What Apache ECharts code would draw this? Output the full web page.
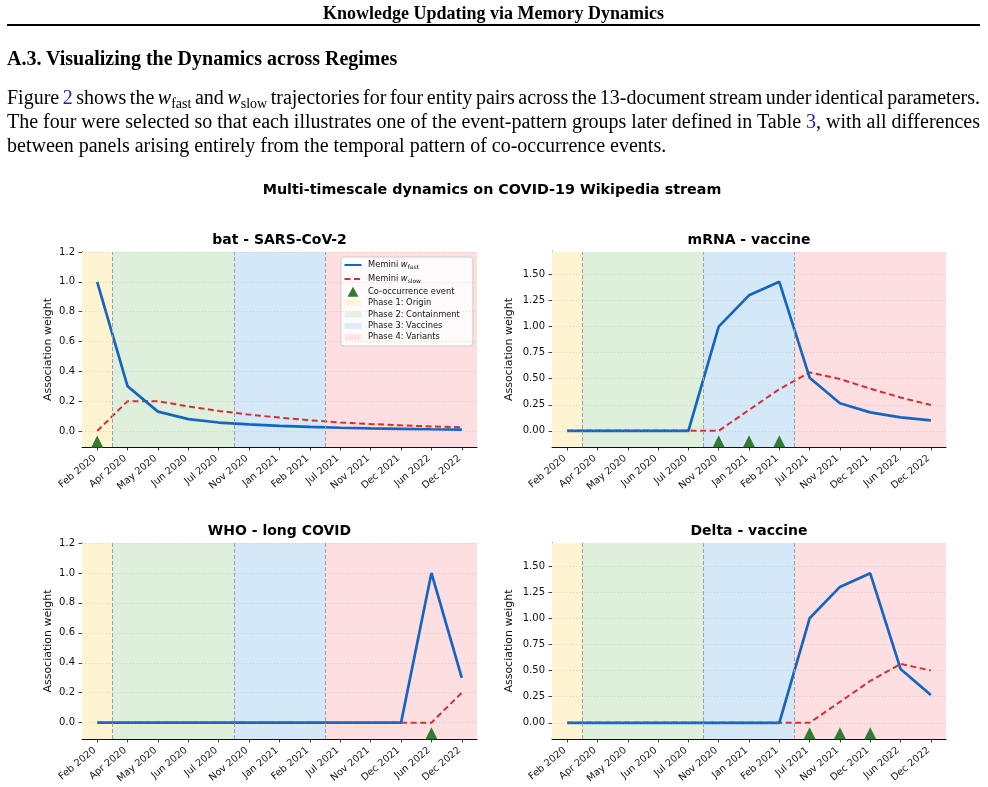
<!DOCTYPE html>
<html>
<head>
<meta charset="utf-8">
<script src="https://cdn.jsdelivr.net/npm/echarts@6/dist/echarts.min.js"></script>
<style>
html,body{margin:0;padding:0;background:#fff;}
#wrap{position:relative;width:988px;height:787px;overflow:hidden;}
#chart{position:absolute;left:0;top:0;width:988px;height:787px;}
.paper{position:absolute;left:7px;width:973px;font-family:'Liberation Serif','Times New Roman',serif;color:#000;}
.hdr{top:2px;text-align:center;font-weight:bold;font-size:18px;line-height:22px;}
.rule{position:absolute;left:7px;width:973px;top:24px;height:2px;background:#000;}
.sec{top:46px;font-weight:bold;font-size:20px;line-height:24px;}
.ln{font-size:20px;line-height:24px;text-align:justify;text-align-last:justify;word-spacing:-2px;}
.ln.last{text-align-last:left;word-spacing:0;}
.ln i{font-style:italic;}
.ln sub{font-size:70%;line-height:0;vertical-align:-0.25em;}
.lk{color:#1f1fa8;}
</style>
</head>
<body>
<div id="wrap">
<div id="chart"></div>
<div class="paper hdr">Knowledge Updating via Memory Dynamics</div>
<div class="rule"></div>
<div class="paper sec">A.3. Visualizing the Dynamics across Regimes</div>
<div class="paper ln" style="top:85px;">Figure <span class="lk">2</span> shows the <i>w</i><sub>fast</sub> and <i>w</i><sub>slow</sub> trajectories for four entity pairs across the 13-document stream under identical parameters.</div>
<div class="paper ln" style="top:109px;">The four were selected so that each illustrates one of the event-pattern groups later defined in Table <span class="lk">3</span>, with all differences</div>
<div class="paper ln last" style="top:133px;">between panels arising entirely from the temporal pattern of co-occurrence events.</div>
</div>
<script>
// ---------------- data ----------------
const categories = ['Feb 2020','Apr 2020','May 2020','Jun 2020','Jul 2020','Nov 2020','Jan 2021','Feb 2021','Jul 2021','Nov 2021','Dec 2021','Jun 2022','Dec 2022'];
const phaseNames = ['Phase 1: Origin','Phase 2: Containment','Phase 3: Vaccines','Phase 4: Variants'];
const phaseFirst = [0, 1, 5, 8];
const phaseLast  = [0, 4, 7, 12];
const panelTitles = ['bat - SARS-CoV-2','mRNA - vaccine','WHO - long COVID','Delta - vaccine'];
const suptitle = 'Multi-timescale dynamics on COVID-19 Wikipedia stream';

const batFast   = [1.00,0.30,0.13,0.08,0.057,0.045,0.035,0.028,0.022,0.018,0.015,0.012,0.010];
const batSlow   = [0.00,0.20,0.20,0.165,0.135,0.11,0.09,0.072,0.058,0.047,0.038,0.031,0.025];
const batEvents = [0];

const mrnaFast   = [0,0,0,0,0,1.00,1.30,1.43,0.51,0.265,0.177,0.13,0.10];
const mrnaSlow   = [0,0,0,0,0,0,0.20,0.40,0.56,0.497,0.405,0.32,0.248];
const mrnaEvents = [5,6,7];

const whoFast   = [0,0,0,0,0,0,0,0,0,0,0,1.00,0.30];
const whoSlow   = [0,0,0,0,0,0,0,0,0,0,0,0,0.20];
const whoEvents = [11];

const deltaFast   = [0,0,0,0,0,0,0,0,1.00,1.30,1.43,0.515,0.265];
const deltaSlow   = [0,0,0,0,0,0,0,0,0,0.20,0.40,0.563,0.50];
const deltaEvents = [8,9,10];

const eventLevels = [-0.07,-0.10,-0.07,-0.10];
const yTicksA = [0,0.2,0.4,0.6,0.8,1.0,1.2];
const yTicksB = [0,0.25,0.5,0.75,1.0,1.25,1.5];
const yMins = [-0.107,-0.155,-0.109,-0.155];
const yMaxs = [1.2,1.716,1.2,1.72];

const fastName = 'Memini w_fast';
const slowName = 'Memini w_slow';
const eventName = 'Co-occurrence event';

// ---------------- styles / layout ----------------
const FONT = "'DejaVu Sans', sans-serif";
const BLUE = '#1565C0', RED = '#D32F2F', GREEN = '#2E7D32';
const phaseColors = ['#FFF4D1','#DEEFDB','#D5E8F8','#FDDEE1'];
const gridPos = [
  {left:82, top:252, width:395, height:195},
  {left:552, top:252, width:394, height:195},
  {left:82, top:543, width:395, height:196},
  {left:552, top:543, width:394, height:196}
];
const panels = [
  {fast:batFast, slow:batSlow, events:batEvents, ticks:yTicksA, dec:1},
  {fast:mrnaFast, slow:mrnaSlow, events:mrnaEvents, ticks:yTicksB, dec:2},
  {fast:whoFast, slow:whoSlow, events:whoEvents, ticks:yTicksA, dec:1},
  {fast:deltaFast, slow:deltaSlow, events:deltaEvents, ticks:yTicksB, dec:2}
];
const xIdx = categories.map((c,i)=>i);

const chart = echarts.init(document.getElementById('chart'), null, {renderer:'canvas'});

const grids=[], xAxes=[], yAxes=[], series=[], titles=[];
titles.push({text:suptitle, left:492, top:183, textAlign:'center', padding:0,
  textStyle:{fontFamily:FONT, fontSize:14.3, fontWeight:'bold', color:'#000'}});

panels.forEach((p,i)=>{
  const g = gridPos[i];
  grids.push(Object.assign({show:false, containLabel:false, outerBoundsMode:'none'}, g));
  titles.push({text:panelTitles[i], left:g.left+g.width/2, top:g.top-19, textAlign:'center', padding:0,
    textStyle:{fontFamily:FONT, fontSize:14, fontWeight:'bold', color:'#000'}});
  xAxes.push({
    type:'value', gridIndex:i, min:-0.5, max:12.5,
    axisLine:{show:true, onZero:false, lineStyle:{color:'#111', width:1}},
    axisTick:{show:true, customValues:xIdx, length:3.5, lineStyle:{color:'#111', width:0.8}},
    axisLabel:{show:true, customValues:xIdx, rotate:40, margin:8, fontSize:9.8, fontFamily:FONT, color:'#111',
      padding:[0,3,0,0], formatter:v=>categories[Math.round(v)]},
    splitLine:{show:false}
  });
  yAxes.push({
    type:'value', gridIndex:i, min:yMins[i], max:yMaxs[i],
    axisLine:{show:true, onZero:false, lineStyle:{color:'#111', width:1}},
    axisTick:{show:true, customValues:p.ticks, length:3.5, lineStyle:{color:'#111', width:0.8}},
    axisLabel:{show:true, customValues:p.ticks, margin:7, fontSize:10, fontFamily:FONT, color:'#111',
      formatter:v=>v.toFixed(p.dec)},
    splitLine:{show:false},
    name:'Association weight', nameLocation:'middle', nameGap:p.dec===1?28.5:37,
    nameTextStyle:{fontFamily:FONT, fontSize:11, color:'#111'}
  });
  // background: phase spans, boundaries, grid lines
  const areas = phaseFirst.map((f,k)=>[
    {xAxis:f-0.5, itemStyle:{color:phaseColors[k], opacity:1}},
    {xAxis:phaseLast[k]+0.5}
  ]);
  const lines = [];
  p.ticks.forEach(t=>lines.push({yAxis:t, lineStyle:{color:'rgba(160,160,160,0.4)', type:[1,2], width:0.8}}));
  phaseFirst.slice(1).forEach(f=>lines.push({xAxis:f-0.5, lineStyle:{color:'#a0a0a0', type:[4,2], width:1}}));
  series.push({
    type:'line', xAxisIndex:i, yAxisIndex:i, data:[], silent:true, z:1,
    markArea:{silent:true, data:areas},
    markLine:{silent:true, symbol:['none','none'], label:{show:false}, animation:false, data:lines}
  });
  series.push({
    name:fastName, type:'line', xAxisIndex:i, yAxisIndex:i, z:4, symbol:'none',
    lineStyle:{color:BLUE, width:2.7}, itemStyle:{color:BLUE},
    data:p.fast.map((v,j)=>[j,v])
  });
  series.push({
    name:slowName, type:'line', xAxisIndex:i, yAxisIndex:i, z:3, symbol:'none',
    lineStyle:{color:RED, width:2, type:[6,3.5]}, itemStyle:{color:RED},
    data:p.slow.map((v,j)=>[j,v])
  });
  series.push({
    name:eventName, type:'scatter', xAxisIndex:i, yAxisIndex:i, z:5,
    symbol:'triangle', symbolSize:[12,12], symbolKeepAspect:true,
    itemStyle:{color:GREEN, opacity:1},
    data:p.events.map(j=>[j, eventLevels[i]])
  });
});
// legend-only entries for phases
phaseNames.forEach((n,k)=>{
  series.push({name:n, type:'scatter', xAxisIndex:0, yAxisIndex:0, data:[], itemStyle:{color:phaseColors[k]}});
});

const legendFormatter = name=>{
  if(name===fastName) return '{t|Memini }{w|w}{s|fast}';
  if(name===slowName) return '{t|Memini }{w|w}{s|slow}';
  return '{t|'+name+'}';
};
const patchIcon = 'path://M0,2L17,2L17,8L0,8Z M0,0L0.01,0L0,0.01Z M17,10L16.99,10L17,9.99Z';
const hiddenDot = {color:'rgba(0,0,0,0)', borderWidth:0, borderColor:'rgba(0,0,0,0)'};

chart.setOption({
  animation:false,
  backgroundColor:'transparent',
  title:titles,
  grid:grids, xAxis:xAxes, yAxis:yAxes, series:series,
  legend:{
    show:true, orient:'vertical', left:341, top:257,
    itemWidth:17, itemHeight:10, itemGap:0,
    padding:[1,13,3,2.5],
    backgroundColor:'rgba(255,255,255,0.85)', borderColor:'#cfcfcf', borderWidth:1, borderRadius:3,
    selectedMode:false,
    data:[
      {name:fastName, itemStyle:hiddenDot},
      {name:slowName, itemStyle:hiddenDot},
      {name:eventName, icon:'path://M0,10L5.5,0L11,10Z'},
      ...phaseNames.map(n=>({name:n, icon:patchIcon}))
    ],
    formatter:legendFormatter,
    textStyle:{fontFamily:FONT, fontSize:8.3, color:'#111', lineHeight:11.4,
      rich:{
        t:{fontFamily:FONT, fontSize:8.3, color:'#111', lineHeight:11.4, padding:[0,0,0,1.5]},
        w:{fontFamily:FONT, fontSize:8.3, fontStyle:'italic', color:'#111', lineHeight:11.4},
        s:{fontFamily:FONT, fontSize:6, color:'#111', lineHeight:14, padding:[4,0,0,0]}
      }}
  }
});
</script>
</body>
</html>
